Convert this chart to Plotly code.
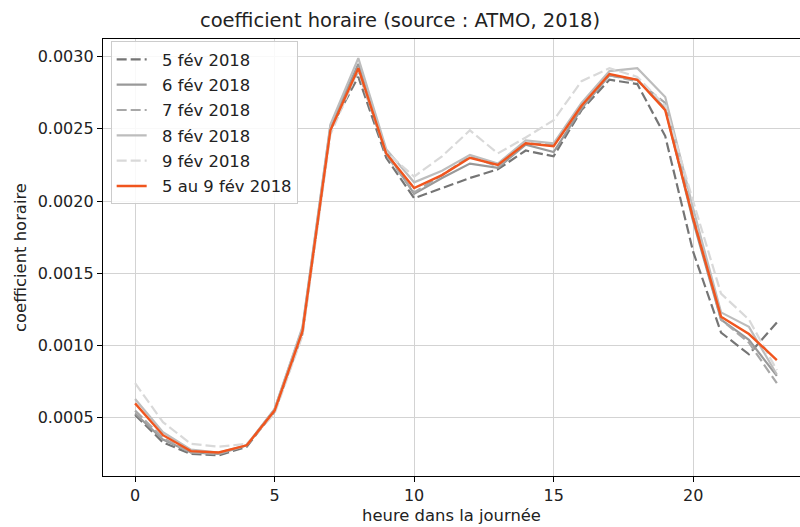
import plotly.graph_objects as go

hours = list(range(24))

day_labels = ["5 fév 2018", "6 fév 2018", "7 fév 2018", "8 fév 2018", "9 fév 2018"]

feb05 = [0.00052, 0.00033, 0.00025, 0.00024, 0.00030, 0.00055, 0.00110, 0.00250,
         0.00286, 0.00230, 0.00202, 0.00209, 0.00216, 0.00222, 0.00235, 0.00231,
         0.00263, 0.00284, 0.00281, 0.00245, 0.00165, 0.00109, 0.00094, 0.00116]
feb06 = [0.00053, 0.00035, 0.00026, 0.00025, 0.00031, 0.00056, 0.00112, 0.00252,
         0.00295, 0.00234, 0.00205, 0.00216, 0.00226, 0.00223, 0.00239, 0.00234,
         0.00264, 0.00287, 0.00284, 0.00264, 0.00186, 0.00118, 0.00104, 0.00079]
feb07 = [0.00055, 0.00036, 0.00026, 0.00025, 0.00031, 0.00054, 0.00108, 0.00249,
         0.00290, 0.00232, 0.00206, 0.00218, 0.00231, 0.00224, 0.00240, 0.00239,
         0.00265, 0.00287, 0.00283, 0.00268, 0.00190, 0.00118, 0.00102, 0.00074]
feb08 = [0.00063, 0.00040, 0.00028, 0.00026, 0.00031, 0.00056, 0.00113, 0.00253,
         0.00299, 0.00236, 0.00213, 0.00221, 0.00232, 0.00226, 0.00242, 0.00240,
         0.00268, 0.00290, 0.00292, 0.00272, 0.00195, 0.00123, 0.00113, 0.00080]
feb09 = [0.00074, 0.00047, 0.00032, 0.00030, 0.00032, 0.00053, 0.00107, 0.00246,
         0.00291, 0.00234, 0.00217, 0.00231, 0.00249, 0.00233, 0.00244, 0.00256,
         0.00283, 0.00292, 0.00286, 0.00266, 0.00200, 0.00136, 0.00118, 0.00083]

mean_label = "5 au 9 fév 2018"
feb05_09 = [0.00060, 0.00038, 0.00027, 0.00026, 0.00031, 0.00055, 0.00110, 0.00249,
            0.00292, 0.00233, 0.00209, 0.00218, 0.00230, 0.00225, 0.00240, 0.00238,
            0.00266, 0.00288, 0.00284, 0.00263, 0.00188, 0.00120, 0.00108, 0.00090]

x_ticks = [0, 5, 10, 15, 20]
y_ticks = [0.0005, 0.0010, 0.0015, 0.0020, 0.0025, 0.0030]

FONT = "DejaVu Sans"
# non-breaking spaces widen the gap between legend swatch and label
PAD = "\u00a0\u00a0"

day_series = [feb05, feb06, feb07, feb08, feb09]
day_styles = [
    ("#757575", "10px,4px"),
    ("#999999", "solid"),
    ("#a8a8a8", "10px,4px"),
    ("#bdbdbd", "solid"),
    ("#d9d9d9", "10px,4px"),
]

fig = go.Figure()
for i, (label, values, (color, dash)) in enumerate(zip(day_labels, day_series, day_styles)):
    fig.add_trace(go.Scatter(
        x=hours, y=values, mode="lines", name=PAD + label,
        legendgroup=f"g{i}",
        line=dict(color=color, width=2.2, dash=dash),
    ))
fig.add_trace(go.Scatter(
    x=hours, y=feb05_09, mode="lines", name=PAD + mean_label,
    legendgroup="gmean",
    line=dict(color="#f0551e", width=2.4),
))

axis_common = dict(
    showgrid=True, gridcolor="#d3d3d3", gridwidth=1,
    zeroline=False,
    showline=True, linecolor="black", linewidth=1.3,
    ticks="outside", ticklen=5, tickwidth=1.2, tickcolor="black",
    tickfont=dict(family=FONT, size=16, color="#222222"),
)

fig.update_layout(
    width=800, height=527,
    margin=dict(l=103, r=0, t=39, b=51),
    paper_bgcolor="white", plot_bgcolor="white",
    title=dict(
        text="coefficient horaire (source : ATMO, 2018)",
        x=0.5, xanchor="center", y=1 - 20 / 527, yanchor="middle",
        font=dict(family=FONT, size=19.5, color="#222222"),
    ),
    xaxis=dict(
        axis_common, range=[-1.15, 23.83], tickvals=x_ticks, mirror=True,
        title=dict(text="heure dans la journée", standoff=5,
                   font=dict(family=FONT, size=16.4, color="#222222")),
    ),
    yaxis=dict(
        axis_common, range=[0.0000975, 0.003122], tickvals=y_ticks,
        tickformat=".4f", mirror=False,
        title=dict(text="coefficient horaire", standoff=6,
                   font=dict(family=FONT, size=16.4, color="#222222")),
    ),
    legend=dict(
        x=0.011, y=0.995, xanchor="left", yanchor="top",
        bgcolor="rgba(255,255,255,0.85)", bordercolor="#cccccc", borderwidth=1,
        font=dict(family=FONT, size=16.4, color="#222222"),
        traceorder="grouped", tracegroupgap=1,
    ),
    showlegend=True,
)

fig.write_html("out.html")
